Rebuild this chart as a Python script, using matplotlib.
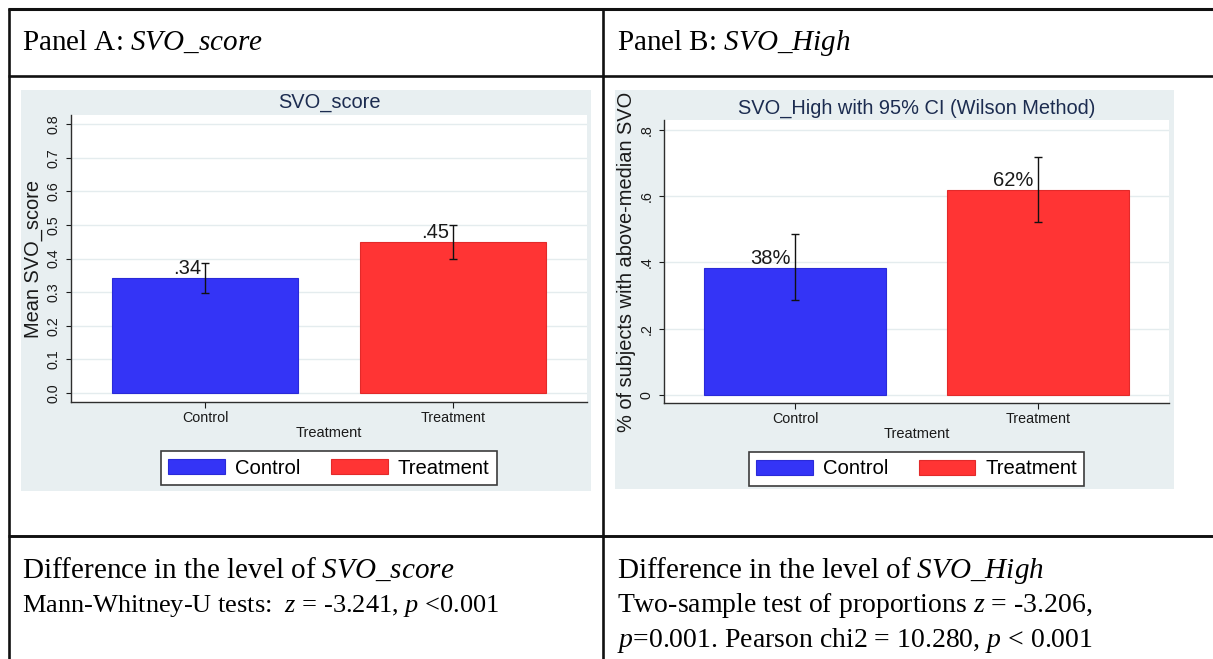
import matplotlib
matplotlib.use('Agg')
import matplotlib.pyplot as plt
from matplotlib.patches import Rectangle
from matplotlib.lines import Line2D

W, H = 1213, 659

groups = ['Control', 'Treatment']
bar_colors = ['#3434f6', '#ff3434']
edge_colors = ['#2a2ad8', '#e22a2a']

# Panel A: mean SVO_score with 95% CI
score_mean = [0.343, 0.449]
score_lo = [0.299, 0.400]
score_hi = [0.388, 0.499]
score_ticks = [0.0, 0.1, 0.2, 0.3, 0.4, 0.5, 0.6, 0.7, 0.8]
score_ticklabels = ['0.0', '0.1', '0.2', '0.3', '0.4', '0.5', '0.6', '0.7', '0.8']

# Panel B: share with above-median SVO, Wilson CI
high_share = [0.384, 0.618]
high_lo = [0.285, 0.523]
high_hi = [0.485, 0.717]
high_ticks = [0.0, 0.2, 0.4, 0.6, 0.8]
high_ticklabels = ['0', '.2', '.4', '.6', '.8']

plt.rcParams['font.family'] = ['Liberation Sans', 'DejaVu Sans']
plt.rcParams['mathtext.fontset'] = 'custom'
plt.rcParams['mathtext.rm'] = 'Liberation Serif'
plt.rcParams['mathtext.it'] = 'Liberation Serif:italic'
plt.rcParams['mathtext.bf'] = 'Liberation Serif:bold'

BG = '#e8eff1'
GRID = '#e4ecee'
TXT = '#1a1a1a'


def fx(x):
    return x / W


def fy(y):
    return 1 - y / H


def add_rect(fig, x0, y0, x1, y1, **kw):
    fig.patches.append(Rectangle((fx(x0), fy(y1)), (x1 - x0) / W, (y1 - y0) / H,
                                 transform=fig.transFigure, **kw))


def add_line(fig, xs, ys, lw):
    fig.add_artist(Line2D([fx(x) for x in xs], [fy(y) for y in ys], color='#111111',
                          lw=lw, transform=fig.transFigure, solid_capstyle='butt'))


def bar_panel(fig, box, vals, lo, hi, labels, ticks, ticklabels, ylim,
              title, title_y, ylabel, ylabel_x, legend_y):
    x0, y0, x1, y1 = box
    ax = fig.add_axes([fx(x0), fy(y1), (x1 - x0) / W, (y1 - y0) / H])
    ax.set_facecolor('white')
    pos = [1, 2]
    bars = ax.bar(pos, vals, width=0.75, color=bar_colors, edgecolor=edge_colors,
                  linewidth=0.8, zorder=2)
    err = [[v - l for v, l in zip(vals, lo)], [h - v for v, h in zip(vals, hi)]]
    ax.errorbar(pos, vals, yerr=err, fmt='none', ecolor='#111111', elinewidth=1.0,
                capsize=2.6, capthick=1.0, zorder=3)
    for p, v, lab in zip(pos, vals, labels):
        ax.annotate(lab, (p, v), xytext=(-3, 0), textcoords='offset points',
                    ha='right', va='bottom', fontsize=14.5, color=TXT, zorder=4)

    ax.set_xlim(0.46, 2.54)
    ax.set_ylim(*ylim)
    ax.set_yticks(ticks, ticklabels)
    ax.set_xticks(pos, groups)
    ax.yaxis.grid(True, color=GRID, lw=1.0, zorder=0)
    ax.set_axisbelow(True)
    for s in ['top', 'right']:
        ax.spines[s].set_visible(False)
    for s in ['left', 'bottom']:
        ax.spines[s].set_color('#2e2e2e')
        ax.spines[s].set_linewidth(1.0)
    ax.tick_params(axis='y', length=3.6, width=0.8, pad=4, labelsize=10.3,
                   labelrotation=90, colors=TXT)
    for t in ax.get_yticklabels():
        t.set_va('center')
    ax.tick_params(axis='x', length=4.3, width=0.8, pad=2, labelsize=10.3, colors=TXT)
    ax.set_xlabel('Treatment', fontsize=10.5, labelpad=1, color=TXT)
    ax.set_ylabel(ylabel, fontsize=14.4, color=TXT)
    ax.yaxis.set_label_coords((ylabel_x - x0) / (x1 - x0), 0.5)

    cx = (x0 + x1) / 2
    fig.text(fx(cx), fy(title_y), title, ha='center', va='center', fontsize=14.4,
             color='#1c2c50')

    leg = ax.legend(bars, groups, loc='center', ncol=2,
                    bbox_to_anchor=(fx(cx), fy(legend_y)), bbox_transform=fig.transFigure,
                    fontsize=14.6, handlelength=2.8, handleheight=0.75,
                    handletextpad=0.5, columnspacing=1.5, borderpad=0.35,
                    borderaxespad=0, fancybox=False, framealpha=1)
    leg.get_frame().set_edgecolor('#3c3c3c')
    leg.get_frame().set_linewidth(1.2)
    return ax


fig = plt.figure(figsize=(W / 100, H / 100), dpi=100)

# grey graph regions, kept behind the axes
add_rect(fig, 21, 90, 591, 491, facecolor=BG, edgecolor='none', zorder=-5)
add_rect(fig, 615, 90, 1174, 489, facecolor=BG, edgecolor='none', zorder=-5)

bar_panel(fig, (71, 115, 587, 402), score_mean, score_lo, score_hi,
          [f'{v:.2f}'.lstrip('0') for v in score_mean],
          score_ticks, score_ticklabels, (-0.0268, 0.8277),
          'SVO_score', 102, 'Mean SVO_score', 43, 468)

bar_panel(fig, (664, 120, 1169, 403), high_share, high_lo, high_hi,
          [f'{round(v * 100)}%' for v in high_share],
          high_ticks, high_ticklabels, (-0.0245, 0.830),
          'SVO_High with 95% CI (Wilson Method)', 108,
          '% of subjects with above-median SVO', 636, 469)

# table rules
add_line(fig, [8, W], [9, 9], 2.2)
add_line(fig, [8, W], [75.5, 75.5], 1.9)
add_line(fig, [8, W], [536, 536], 2.1)
add_line(fig, [8.5, 8.5], [8, H], 1.9)
add_line(fig, [603, 603], [8, H], 1.9)

serif = dict(family='Liberation Serif', color='black', va='baseline')
fig.text(fx(22), fy(50), r'Panel A: $SVO\_score$', fontsize=21, **serif)
fig.text(fx(617), fy(50), r'Panel B: $SVO\_High$', fontsize=21, **serif)

fig.text(fx(22), fy(578), r'Difference in the level of $SVO\_score$', fontsize=21, **serif)
fig.text(fx(22), fy(612), r'Mann-Whitney-U tests:  $z$ = -3.241, $p$ <0.001', fontsize=19, **serif)
fig.text(fx(617), fy(578), r'Difference in the level of $SVO\_High$', fontsize=21, **serif)
fig.text(fx(617), fy(612), r'Two-sample test of proportions $z$ = -3.206,', fontsize=20, **serif)
fig.text(fx(617), fy(647), r'$p$=0.001. Pearson chi2 = 10.280, $p$ < 0.001', fontsize=20, **serif)

fig.savefig('out.png', dpi=100)
